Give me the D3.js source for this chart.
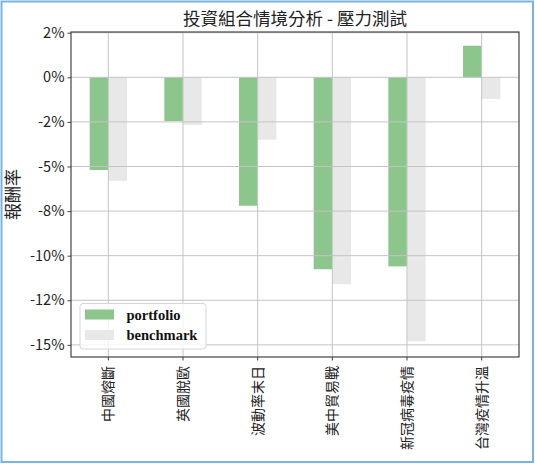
<!DOCTYPE html>
<html>
<head>
<meta charset="utf-8">
<script src="https://cdn.jsdelivr.net/npm/d3@7"></script>
<style>
  body { margin: 0; background: #fff; }
  svg { display: block; }
</style>
</head>
<body>
<svg id="chart" width="535" height="464"></svg>
<script>
// scenario names and returns
const scenarios = ["中國熔斷", "英國脫歐", "波動率末日", "美中貿易戰", "新冠病毒疫情", "台灣疫情升溫"]
const portfolio = [-0.052, -0.0245, -0.072, -0.1076, -0.106, 0.0177]
const benchmark = [-0.058, -0.0267, -0.035, -0.116, -0.148, -0.0121]
const seriesNames = ["portfolio", "benchmark"]
const yTicks = [0.025, 0, -0.025, -0.05, -0.075, -0.1, -0.125, -0.15]
const yTickLabels = ["2%", "0%", "-2%", "-5%", "-8%", "-10%", "-12%", "-15%"]

const cjk = "'Noto Sans CJK TC', 'Noto Sans', sans-serif"
const colors = {portfolio: "#8cc68c", benchmark: "#e8e8e8"}

const W = 535, H = 464
const m = {left: 71, right: 519, top: 32, bottom: 357}

const svg = d3.select("#chart")

// outer frame
svg.append("rect")
  .attr("x", 1.5).attr("y", 1.5)
  .attr("width", W - 3.5).attr("height", H - 3.5)
  .attr("fill", "#fff")
  .attr("stroke", "#7ab3e0")
  .attr("stroke-width", 2)

const x = d3.scaleBand().domain(scenarios).range([m.left, m.right]).padding(0)
const y = d3.scaleLinear().domain([-0.1568, 0.0254]).range([m.bottom, m.top])
//bars take half of each band, split in two
const xSub = d3.scaleBand().domain(seriesNames).range([0, x.bandwidth() / 2])

const rows = scenarios.map((s, i) => ({scenario: s, portfolio: portfolio[i], benchmark: benchmark[i]}))

svg.append("g")
  .selectAll("g")
  .data(rows)
  .join("g")
  .attr("transform", d => `translate(${x(d.scenario) + x.bandwidth() / 4},0)`)
  .selectAll("rect")
  .data(d => seriesNames.map(k => ({key: k, value: d[k]})))
  .join("rect")
  .attr("x", d => xSub(d.key))
  .attr("width", xSub.bandwidth())
  .attr("y", d => y(Math.max(0, d.value)))
  .attr("height", d => Math.abs(y(d.value) - y(0)))
  .attr("fill", d => colors[d.key])

// grid sits above the bars like matplotlib's default
const grid = svg.append("g").attr("stroke", "#c4c4c4").attr("stroke-width", 1)
grid.selectAll("line.h")
  .data(yTicks)
  .join("line")
  .attr("class", "h")
  .attr("x1", m.left).attr("x2", m.right)
  .attr("y1", d => y(d)).attr("y2", d => y(d))
grid.selectAll("line.v")
  .data(scenarios)
  .join("line")
  .attr("class", "v")
  .attr("x1", d => x(d) + x.bandwidth() / 2).attr("x2", d => x(d) + x.bandwidth() / 2)
  .attr("y1", m.top).attr("y2", m.bottom)

// axes
const yAxis = svg.append("g")
  .attr("transform", `translate(${m.left},0)`)
  .call(d3.axisLeft(y).tickValues(yTicks).tickSize(3.5).tickPadding(3)
    .tickFormat((d, i) => yTickLabels[i]))
yAxis.select(".domain").remove()
yAxis.selectAll("line").attr("stroke", "#444")
yAxis.selectAll("text")
  .attr("font-family", cjk)
  .attr("font-size", "14.5px")
  .attr("fill", "#222")

const xAxis = svg.append("g")
  .attr("transform", `translate(0,${m.bottom})`)
  .call(d3.axisBottom(x).tickSize(3.5).tickPadding(0))
xAxis.select(".domain").remove()
xAxis.selectAll("line").attr("stroke", "#444")
xAxis.selectAll("text")
  .attr("font-family", cjk)
  .attr("font-size", "14px")
  .attr("fill", "#222")
  .attr("text-anchor", "end")
  .attr("transform", "translate(0,9) rotate(-90)")
  .attr("x", 0)
  .attr("y", 0)
  .attr("dy", "0.35em")

// spines
svg.append("rect")
  .attr("x", m.left).attr("y", m.top)
  .attr("width", m.right - m.left).attr("height", m.bottom - m.top)
  .attr("fill", "none")
  .attr("stroke", "#444")
  .attr("stroke-width", 1.2)

svg.append("text")
  .attr("x", (m.left + m.right) / 2)
  .attr("y", 25)
  .attr("text-anchor", "middle")
  .attr("font-family", cjk)
  .attr("font-size", "17.5px")
  .attr("fill", "#222")
  .text("投資組合情境分析 - 壓力測試")

svg.append("text")
  .attr("transform", `translate(13,${(m.top + m.bottom) / 2}) rotate(-90)`)
  .attr("text-anchor", "middle")
  .attr("dy", "0.35em")
  .attr("font-family", cjk)
  .attr("font-size", "17px")
  .attr("fill", "#222")
  .text("報酬率")

// legend
const lg = svg.append("g").attr("transform", "translate(80,303.5)")
lg.append("rect")
  .attr("width", 126).attr("height", 45.5)
  .attr("rx", 3)
  .attr("fill", "#fff").attr("fill-opacity", 0.8)
  .attr("stroke", "#d6d6d6")
const item = lg.selectAll("g")
  .data(seriesNames)
  .join("g")
  .attr("transform", (d, i) => `translate(5,${11 + i * 20.5})`)
item.append("rect")
  .attr("y", -5).attr("width", 29).attr("height", 10)
  .attr("fill", d => colors[d])
item.append("text")
  .attr("x", 41.5)
  .attr("dy", "0.35em")
  .attr("font-family", "'Liberation Serif', 'Times New Roman', serif")
  .attr("font-weight", "bold")
  .attr("font-size", "14.5px")
  .attr("fill", "#111")
  .text(d => d)
</script>
</body>
</html>
